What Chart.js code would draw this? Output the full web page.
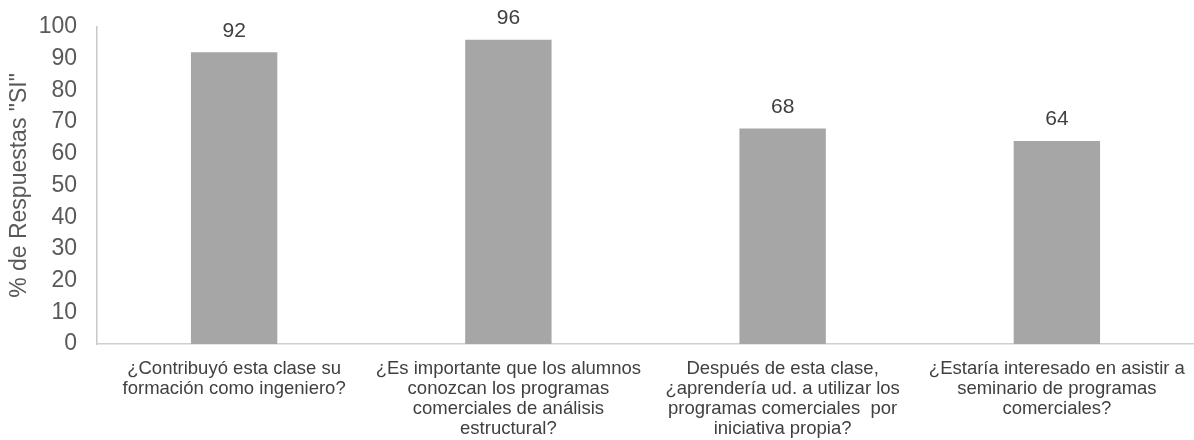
<!DOCTYPE html>
<html>
<head>
<meta charset="utf-8">
<script src="https://cdn.jsdelivr.net/npm/chart.js@4.4.0/dist/chart.umd.min.js"></script>
<style>
    html, body { margin: 0; padding: 0; background: #fff; }
    #wrap { width: 1194px; height: 440px; position: relative; }
</style>
</head>
<body>
<div id="wrap"><canvas id="siChart"></canvas></div>
<script>
// preguntas de la encuesta (una por barra)
const questions = [
    ['¿Contribuyó esta clase su', 'formación como ingeniero?'],
    ['¿Es importante que los alumnos', 'conozcan los programas', 'comerciales de análisis', 'estructural?'],
    ['Después de esta clase,', '¿aprendería ud. a utilizar los', 'programas comerciales  por', 'iniciativa propia?'],
    ['¿Estaría interesado en asistir a', 'seminario de programas', 'comerciales?']
];

// % de respuestas "SI"
const siValues = [92, 96, 68, 64];

const yTitle = '% de Respuestas "SI"';
const yMin = 0;
const yMax = 100;
const yStep = 10;

const FONT = "'Liberation Sans', Arial, sans-serif";

// escribe el valor encima de cada barra
const valueLabels = {
    id: 'valueLabels',
    afterDatasetsDraw(chart) {
        const ctx = chart.ctx;
        const meta = chart.getDatasetMeta(0);
        ctx.save();
        ctx.font = `21px ${FONT}`;
        ctx.fillStyle = '#404040';
        ctx.textAlign = 'center';
        ctx.textBaseline = 'bottom';
        meta.data.forEach((bar, i) => {
            ctx.fillText(String(siValues[i]), bar.x, bar.y - 11);
        });
        ctx.restore();
    }
};

const ctx = document.getElementById('siChart').getContext('2d');

window.chartInstance = new Chart(ctx, {
    type: 'bar',
    data: {
        labels: questions,
        datasets: [{
            label: yTitle,
            data: siValues,
            backgroundColor: '#a6a6a6',
            categoryPercentage: 1,
            barPercentage: 0.315
        }]
    },
    options: {
        responsive: true,
        maintainAspectRatio: false,
        animation: false,
        layout: {
            padding: { top: 27, right: 0, bottom: 0, left: 0 }
        },
        plugins: {
            legend: { display: false },
            tooltip: { enabled: false }
        },
        scales: {
            x: {
                grid: { display: false, drawTicks: false },
                border: { display: true, color: '#d0d0d0', width: 1.5 },
                ticks: {
                    color: '#404040',
                    font: { family: FONT, size: 18.5, lineHeight: 1.08 },
                    padding: 15,
                    maxRotation: 0,
                    autoSkip: false
                },
                afterFit(scale) {
                    scale.height = 96;
                    scale.paddingLeft = 0;
                    scale.paddingRight = 0;
                }
            },
            y: {
                min: yMin,
                max: yMax,
                grid: { display: false, drawTicks: false },
                border: { display: true, color: '#c8c8c8', width: 1.5 },
                ticks: {
                    stepSize: yStep,
                    color: '#595959',
                    font: { family: FONT, size: 23 },
                    padding: 20
                },
                title: {
                    display: true,
                    text: yTitle,
                    color: '#595959',
                    font: { family: FONT, size: 23 },
                    padding: { top: 6, bottom: 0 }
                },
                afterFit(scale) {
                    scale.width = 97;
                    scale.paddingTop = 0;
                    scale.paddingBottom = 0;
                }
            }
        }
    },
    plugins: [valueLabels]
});
</script>
</body>
</html>
